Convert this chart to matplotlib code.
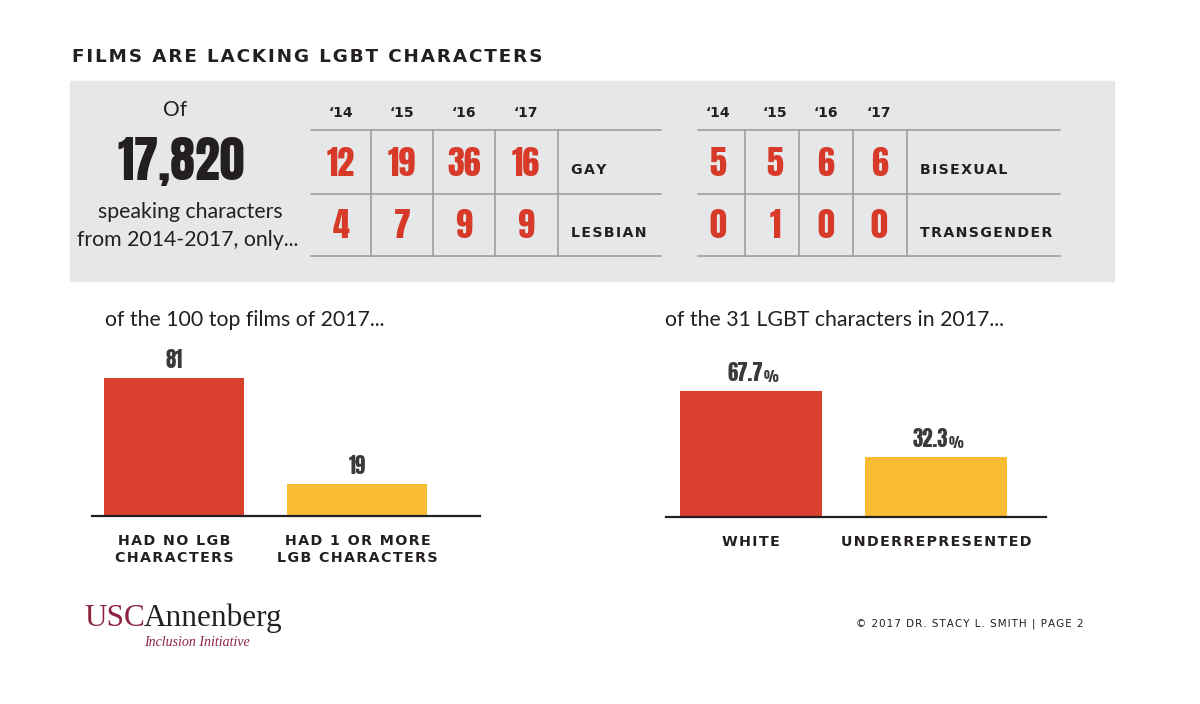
import matplotlib
matplotlib.use("Agg")
import matplotlib.pyplot as plt

W, H = 1200, 704

# data
years = ["\u201814", "\u201815", "\u201816", "\u201817"]
gay = [12, 19, 36, 16]
lesbian = [4, 7, 9, 9]
bisexual = [5, 5, 6, 6]
transgender = [0, 1, 0, 0]
total_chars = "17,820"

film_cats = ["HAD NO LGB\nCHARACTERS", "HAD 1 OR MORE\nLGB CHARACTERS"]
film_vals = [81, 19]
race_cats = ["WHITE", "UNDERREPRESENTED"]
race_vals = [67.7, 32.3]

RED = "#d9412e"
NUMRED = "#d83a29"
YELLOW = "#f8bd33"
GRAY = "#e6e7e8"
INK = "#231f20"
MAROON = "#8c2440"

NARROW = ["Anton", "DejaVu Sans"]
SANS = ["DejaVu Sans"]
BOOK = ["Lato", "DejaVu Sans"]
plt.rcParams["font.family"] = ["DejaVu Sans"]


def track(s):
    # fake letter spacing with hair spaces
    return "\n".join("\u200a".join(line) for line in s.split("\n"))


fig = plt.figure(figsize=(W / 100, H / 100), dpi=100)
fig.patch.set_facecolor("white")

# overlay in pixel coords
ov = fig.add_axes([0, 0, 1, 1])
ov.set_xlim(0, W)
ov.set_ylim(H, 0)
ov.axis("off")

ov.text(72, 57, track("FILMS ARE LACKING LGBT CHARACTERS"), fontsize=13.2, fontweight="bold",
        color=INK, ha="left", va="center", family=SANS)

ov.add_patch(plt.Rectangle((70, 81), 1044, 200, color=GRAY, zorder=0))

# left summary
ov.text(175, 110, "Of", fontsize=15, color=INK, ha="center", va="center", family=BOOK)
ov.text(181, 162, total_chars, fontsize=36, color=INK, ha="center",
        va="center", family=NARROW)
ov.text(190, 212, "speaking characters", fontsize=15.3, color=INK, ha="center", va="center",
        family=BOOK)
ov.text(188, 240, "from 2014-2017, only...", fontsize=15.3, color=INK, ha="center",
        va="center", family=BOOK)


def draw_table(x0, x1, vlines, centers, rows, labels, label_x):
    ys = [130, 194, 256]
    for y in ys:
        ov.plot([x0, x1], [y, y], color="#9a9a9a", lw=1.1)
    for x in vlines:
        ov.plot([x, x], [ys[0], ys[2]], color="#9a9a9a", lw=1.1)
    for cx, yr in zip(centers, years):
        ov.text(cx, 113, yr, fontsize=10, fontweight="bold", color=INK, ha="center",
                va="center", family=SANS)
    for r, (vals, lab) in enumerate(zip(rows, labels)):
        cy = (ys[r] + ys[r + 1]) / 2
        for cx, v in zip(centers, vals):
            ov.text(cx, cy + 1, str(v), fontsize=24.5, color=NUMRED,
                    ha="center", va="center", family=NARROW)
        ov.text(label_x, cy + 8, track(lab), fontsize=10.2, fontweight="bold", color=INK,
                ha="left", va="center", family=SANS)


draw_table(311, 661, [371, 433, 495, 558], [341, 402, 464, 526],
           [gay, lesbian], ["GAY", "LESBIAN"], 571)
draw_table(698, 1060, [745, 799, 853, 907], [718, 775, 826, 879],
           [bisexual, transgender], ["BISEXUAL", "TRANSGENDER"], 920)

# subtitles
ov.text(105, 320, "of the 100 top films of 2017...", fontsize=15.3, color=INK, ha="left",
        va="center", family=BOOK)
ov.text(665, 320, "of the 31 LGBT characters in 2017...", fontsize=15.3, color=INK, ha="left",
        va="center", family=BOOK)


def bar_axes(left, right, bottom, top):
    return fig.add_axes([left / W, 1 - bottom / H, (right - left) / W, (bottom - top) / H])


def style(ax):
    for s in ["top", "right", "left"]:
        ax.spines[s].set_visible(False)
    ax.spines["bottom"].set_color(INK)
    ax.spines["bottom"].set_linewidth(1.6)
    ax.set_yticks([])
    ax.tick_params(axis="x", length=0, pad=13)
    ax.patch.set_alpha(0)


# films chart
ax1 = bar_axes(92, 480, 516, 340)
b1 = ax1.bar(range(len(film_vals)), film_vals, width=0.763, color=[RED, YELLOW])
ax1.set_xlim(-0.447, 1.668)
ax1.set_ylim(0, 103.5)
style(ax1)
ax1.set_xticks(range(len(film_cats)))
ax1.set_xticklabels([track(c) for c in film_cats], fontsize=10.3, fontweight="bold", color=INK,
                    linespacing=1.3, family=SANS)
for rect, v in zip(b1, film_vals):
    ax1.annotate(str(v), (rect.get_x() + rect.get_width() / 2, v), xytext=(0, 5),
                 textcoords="offset points", ha="center", va="bottom", fontsize=15,
                 color="#3a3a3a", family=NARROW)

# race chart
ax2 = bar_axes(666, 1046, 517, 340)
b2 = ax2.bar(range(len(race_vals)), race_vals, width=0.768, color=[RED, YELLOW])
ax2.set_xlim(-0.459, 1.595)
ax2.set_ylim(0, 95.1)
style(ax2)
ax2.set_xticks(range(len(race_cats)))
ax2.set_xticklabels([track(c) for c in race_cats], fontsize=10.3, fontweight="bold", color=INK,
                    family=SANS)
for rect, v in zip(b2, race_vals):
    t = ax2.annotate(f"{v:.1f}", (rect.get_x() + rect.get_width() / 2 - 0.03, v), xytext=(0, 5),
                     textcoords="offset points", ha="center", va="bottom", fontsize=15,
                     color="#3a3a3a", family=NARROW)
    ax2.annotate("%", xy=(1, 0), xycoords=t, xytext=(0.5, 0), textcoords="offset points",
                 ha="left", va="bottom", fontsize=10, color="#3a3a3a", family=NARROW)

# footer
usc = ov.text(84, 626, "USC", fontsize=22.5, color=MAROON, ha="left", va="baseline",
              family="Liberation Serif")
ov.annotate("Annenberg", xy=(1, 0), xycoords=usc, xytext=(-1, 0), textcoords="offset points",
            ha="left", va="bottom", fontsize=22.5, color=INK, family="Liberation Serif")
ov.text(197, 643, "Inclusion Initiative", fontsize=10, style="italic", color=MAROON,
        ha="center", va="center", family="Liberation Serif")
ov.text(1084, 624, track("\u00a9 2017 DR. STACY L. SMITH | PAGE 2"), fontsize=7.5, color=INK,
        ha="right", va="center", family=SANS)

fig.savefig("out.png", dpi=100, facecolor="white")
